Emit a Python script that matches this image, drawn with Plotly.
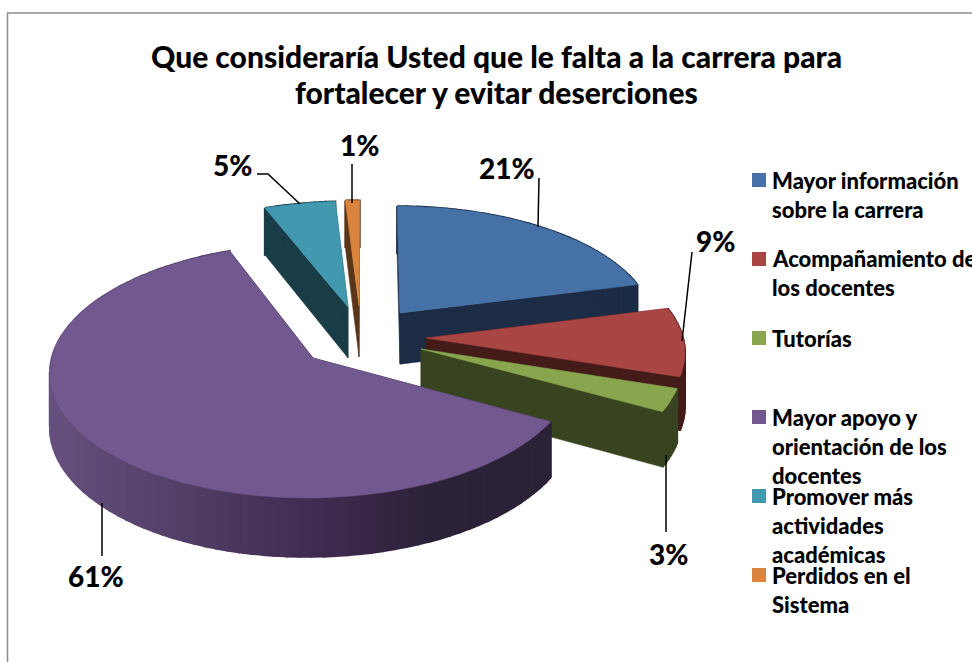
import math
import plotly.graph_objects as go

# ---- data -------------------------------------------------------------
categories = ["Mayor información<br>sobre la carrera", "Acompañamiento de<br>los docentes", "Tutorías",
              "Mayor apoyo y<br>orientación de los<br>docentes", "Promover más<br>actividades<br>académicas",
              "Perdidos en el<br>Sistema"]
values = [21, 9, 3, 61, 5, 1]
title_text = "Que consideraría Usted que le falta a la carrera para<br>fortalecer y evitar deserciones"

# ---- styles ------------------------------------------------------------
top_colors = ["#4571a7", "#a94543", "#89a54e", "#71588f", "#4198af", "#db843d"]
side_colors = ["#1b2c44", "#451b1a", "#384420", "#2c2238", "#1a3c46", "#5a3517"]
purple_wall = [(50, "#66507f"), (200, "#4f3c63"), (330, "#3e2a4e"), (430, "#2c2238"), (560, "#2c2238")]
# screen position of each exploded slice's tip
tips = [(400, 313), (426, 338), (421, 349), (313, 358), (348, 307), (359, 306)]
draw_order = [4, 5, 0, 1, 2, 3]
legend_tops = [173, 252, 331, 410, 489, 568]
legend_line_y = [[180, 209], [258, 287], [338], [417, 446, 475], [496, 525, 554], [575, 604]]
label_pos = [(507, 168), (715, 241), (668, 554), (96, 576), (232, 165), (359, 145)]
leaders = [[(539, 178), (538, 227)], [(692, 252), (682, 341)], [(666, 455), (666, 532)],
           [(102, 503), (102, 556)], [(257, 174), (268, 174), (300, 204)], [(352, 164), (352, 203)]]

# ---- perspective projection of the exploded pie ------------------------
XV, YV, HT, K, R, DEPTH = 367.0, -900.0, 1257.0, 0.10, 261.0, 53.0


def project(x0, z0, theta, drop=0.0, r=R):
    z = z0 - (r / R) * math.cos(theta)
    f = 1 / (1 - K * z)
    return XV + (x0 + r * math.sin(theta)) * f, YV + (HT + drop) * f


def hexmix(a, b, t):
    ca = [int(a[i:i + 2], 16) for i in (1, 3, 5)]
    cb = [int(b[i:i + 2], 16) for i in (1, 3, 5)]
    return "#" + "".join(f"{round(p + (q - p) * t):02x}" for p, q in zip(ca, cb))


def wall_color(x):
    for (x1, c1), (x2, c2) in zip(purple_wall, purple_wall[1:]):
        if x <= x2:
            return hexmix(c1, c2, max(0, (x - x1) / (x2 - x1)))
    return purple_wall[-1][1]


fig = go.Figure()


def poly(pts, color, name=None, lw=0.6):
    fig.add_trace(go.Scatter(x=[p[0] for p in pts] + [pts[0][0]], y=[p[1] for p in pts] + [pts[0][1]],
                             mode="lines", fill="toself", fillcolor=color,
                             line=dict(color=color, width=lw), hoverinfo="skip", showlegend=False, name=name))


total = sum(values)
starts = [sum(values[:i]) / total * 2 * math.pi for i in range(len(values))]
for i in draw_order:
    a0 = starts[i]
    a1 = a0 + values[i] / total * 2 * math.pi
    tx, ty = tips[i]
    f0 = (ty - YV) / HT
    z0 = (1 - 1 / f0) / K
    x0 = (tx - XV) / f0
    n = max(6, int(values[i] * 1.5))
    thetas = [a0 + (a1 - a0) * j / n for j in range(n + 1)]
    side = side_colors[i]
    # radial cut faces
    for a in (a0, a1):
        poly([project(x0, z0, a, 0, 0), project(x0, z0, a), project(x0, z0, a, DEPTH), project(x0, z0, a, DEPTH, 0)], side)
    # outer wall
    for t1, t2 in zip(thetas, thetas[1:]):
        p1, p2 = project(x0, z0, t1), project(x0, z0, t2)
        col = wall_color((p1[0] + p2[0]) / 2) if i == 3 else side
        poly([p1, p2, project(x0, z0, t2, DEPTH), project(x0, z0, t1, DEPTH)], col, lw=2)
    # top surface
    poly([project(x0, z0, a0, 0, 0)] + [project(x0, z0, t) for t in thetas], top_colors[i], name=categories[i])

# leader lines
for line in leaders:
    fig.add_trace(go.Scatter(x=[p[0] for p in line], y=[p[1] for p in line], mode="lines",
                             line=dict(color="#000000", width=1.5), hoverinfo="skip", showlegend=False))

FONT = "Lato"
WEIGHT = 900
annotations = []
for v, (x, y) in zip(values, label_pos):
    annotations.append(dict(x=x, y=y, text=f"{v}%", showarrow=False, xanchor="center", yanchor="middle",
                            font=dict(family=FONT, size=28, color="#000000", weight=WEIGHT)))
shapes = [dict(type="line", x0=7.5, x1=7.5, y0=662, y1=13, line=dict(color="#8c8c8c", width=1.5)),
          dict(type="line", x0=7, x1=972, y0=13, y1=13, line=dict(color="#8c8c8c", width=1.5))]
for cat, color, top, ys in zip(categories, top_colors, legend_tops, legend_line_y):
    shapes.append(dict(type="rect", x0=752, x1=766, y0=top, y1=top + 14, fillcolor=color, line=dict(width=0)))
    for line, y in zip(cat.split("<br>"), ys):
        annotations.append(dict(x=770, y=y, text=line, showarrow=False, xanchor="left", yanchor="middle",
                                font=dict(family=FONT, size=22, color="#000000", weight=WEIGHT)))
for line, y in zip(title_text.split("<br>"), (56, 92)):
    annotations.append(dict(x=496.5, y=y, text=line, showarrow=False, xanchor="center", yanchor="middle",
                            font=dict(family=FONT, size=30, color="#000000", weight=WEIGHT)))

fig.update_layout(width=972, height=662, margin=dict(l=0, r=0, t=0, b=0), paper_bgcolor="#ffffff",
                  plot_bgcolor="#ffffff", showlegend=False, annotations=annotations, shapes=shapes,
                  xaxis=dict(range=[0, 972], visible=False, fixedrange=True),
                  yaxis=dict(range=[662, 0], visible=False, fixedrange=True))
fig.write_html("out.html", config=dict(displayModeBar=False),
               post_script="document.body.style.margin='0';document.body.style.overflow='hidden';")
